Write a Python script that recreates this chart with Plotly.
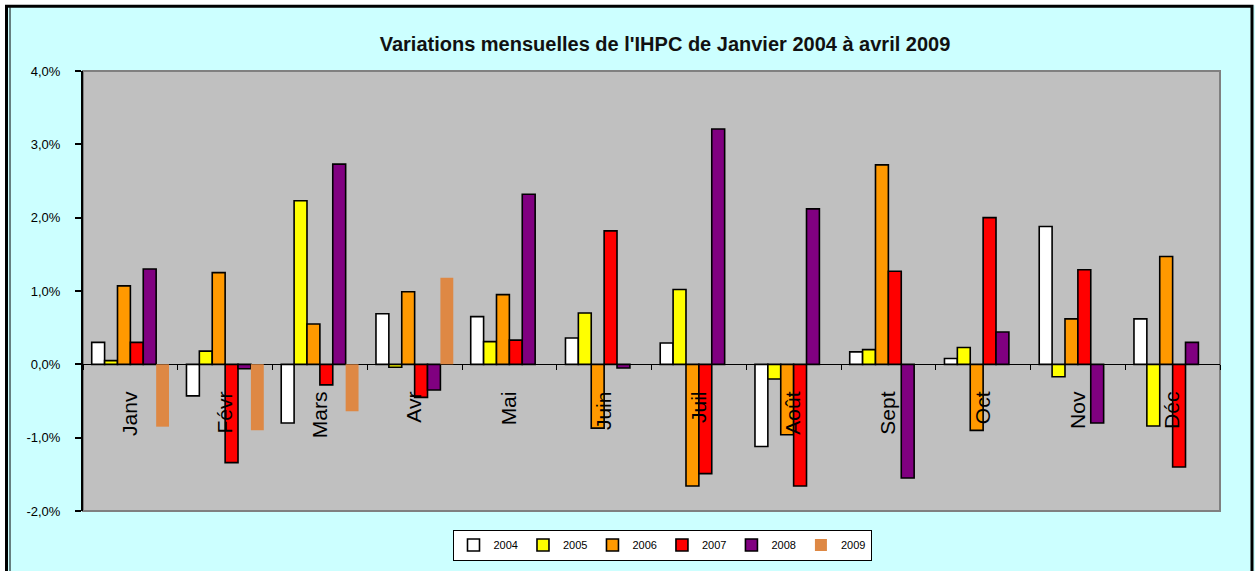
import plotly.graph_objects as go

# monthly CPI (IHPC) change, in percent
months = ["Janv", "Févr", "Mars", "Avr", "Mai", "Juin", "Juil", "Août", "Sept", "Oct", "Nov", "Déc"]
years = ["2004", "2005", "2006", "2007", "2008", "2009"]

v2004 = [0.30, -0.43, -0.80, 0.69, 0.65, 0.36, 0.29, -1.12, 0.17, 0.08, 1.88, 0.62]
v2005 = [0.05, 0.18, 2.23, -0.04, 0.31, 0.70, 1.02, -0.20, 0.20, 0.23, -0.17, -0.84]
v2006 = [1.07, 1.25, 0.55, 0.99, 0.95, -0.87, -1.66, -0.96, 2.72, -0.90, 0.62, 1.47]
v2007 = [0.30, -1.34, -0.28, -0.45, 0.33, 1.82, -1.49, -1.66, 1.27, 2.00, 1.29, -1.40]
v2008 = [1.30, -0.06, 2.73, -0.35, 2.32, -0.05, 3.21, 2.12, -1.55, 0.44, -0.80, 0.30]
v2009 = [-0.85, -0.90, -0.64, 1.18]

y_range = [-2, 4]
y_ticks = [-2, -1, 0, 1, 2, 3, 4]

series = [v2004, v2005, v2006, v2007, v2008, v2009]
colors = ["#FFFFFF", "#FFFF00", "#FF9900", "#FF0000", "#800080", "#DE8844"]

W, H = 1260, 571
ML, MR, MT, MB = 83, 40, 71, 59


def px_x(p):
    # pixel column -> paper x
    return (p - ML) / (W - ML - MR)


def px_y(p):
    # pixel row -> paper y
    return (H - MB - p) / (H - MT - MB)


fig = go.Figure()

for year, vals, col in zip(years, series, colors):
    fig.add_trace(go.Bar(
        x=months[:len(vals)], y=vals, name=year,
        marker={'color': col,
                'line': {'color': 'black', 'width': 0 if year == "2009" else 1.6}},
    ))

# x axis sits on the zero line, labels hang below it
zero_pos = (0 - y_range[0]) / (y_range[1] - y_range[0])

fig.update_layout(
    width=W, height=H,
    margin={'l': ML, 'r': MR, 't': MT, 'b': MB},
    paper_bgcolor="#CCFFFF",
    plot_bgcolor="#C0C0C0",
    barmode='group', bargap=0.184, bargroupgap=0,
    font={'family': "Liberation Sans, Arial, sans-serif", 'color': 'black'},
    title={'text': "<b>Variations mensuelles de l'IHPC de Janvier 2004 à avril 2009</b>",
           'x': px_x(665), 'xref': 'paper', 'xanchor': 'center',
           'y': 1 - 44 / H, 'yanchor': 'middle',
           'font': {'size': 20, 'color': '#111111'}},
    xaxis={'anchor': 'free', 'position': zero_pos,
           'categoryorder': 'array', 'categoryarray': months,
           'showline': False, 'showgrid': False, 'zeroline': False,
           'ticks': 'outside', 'tickson': 'boundaries', 'ticklen': 5,
           'tickcolor': 'black', 'tickwidth': 1,
           'tickangle': -90, 'ticklabelstandoff': 22,
           'tickfont': {'size': 21}},
    yaxis={'range': y_range, 'tickvals': y_ticks,
           'ticktext': [("%.1f%%" % t).replace(".", ",") for t in y_ticks],
           'showgrid': False, 'zeroline': True, 'zerolinecolor': 'black', 'zerolinewidth': 1,
           'showline': True, 'linecolor': 'black', 'linewidth': 2,
           'ticks': 'outside', 'ticklen': 6, 'tickcolor': 'black', 'tickwidth': 2,
           'ticklabelstandoff': 12,
           'tickfont': {'size': 13}},
    legend={'orientation': 'h', 'x': px_x(662), 'xanchor': 'center',
            'y': px_y(545), 'yanchor': 'middle',
            'bgcolor': 'white', 'bordercolor': 'black', 'borderwidth': 1,
            'font': {'size': 11}, 'itemwidth': 30, 'traceorder': 'normal'},
    showlegend=True,
)

# gray frame of the plot area
fig.add_shape(type='rect', xref='paper', yref='paper', x0=0, x1=1, y0=0, y1=1,
              line={'color': '#808080', 'width': 2}, layer='below')

# outer chart border: white margin, thick black line, thin inner line on the left
# (the bottom edge of the border falls below the visible page)
fig.add_shape(type='rect', xref='paper', yref='paper',
              x0=px_x(0), x1=px_x(W), y0=px_y(H + 30), y1=px_y(0),
              line={'color': 'white', 'width': 10})
fig.add_shape(type='rect', xref='paper', yref='paper',
              x0=px_x(6.5), x1=px_x(1252), y0=px_y(H + 20), y1=px_y(6),
              line={'color': 'black', 'width': 3})
fig.add_shape(type='line', xref='paper', yref='paper',
              x0=px_x(10), x1=px_x(10), y0=px_y(H + 20), y1=px_y(7),
              line={'color': 'black', 'width': 1})

# drop the browser's default page margin so the figure starts at the corner
fig.write_html("out.html", config={'displayModeBar': False},
               post_script="document.body.style.margin='0';")
